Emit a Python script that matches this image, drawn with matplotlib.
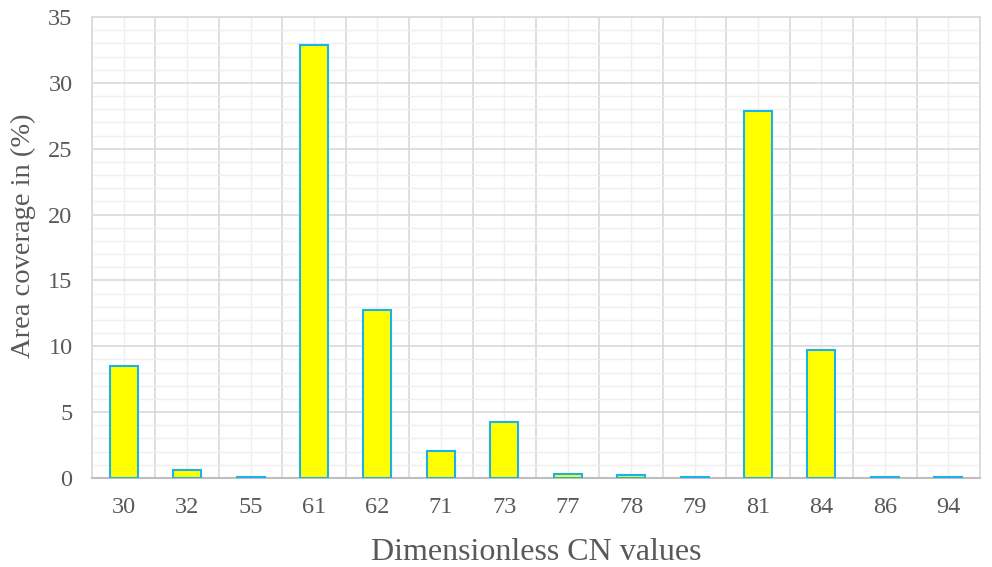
import numpy as np
import matplotlib.pyplot as plt
from matplotlib.ticker import MultipleLocator

cn_values = ["30", "32", "55", "61", "62", "71", "73", "77", "78", "79", "81", "84", "86", "94"]
coverage = [8.5, 0.6, 0.1, 32.9, 12.75, 2.05, 4.25, 0.3, 0.2, 0.1, 27.9, 9.7, 0.1, 0.1]

plt.rcParams['font.family'] = ['Liberation Serif', 'DejaVu Serif']

fig = plt.figure(figsize=(9.92, 5.67), dpi=100)
ax = fig.add_axes([92 / 992, 1 - 478 / 567, 888 / 992, 461 / 567])

x = np.arange(len(cn_values))
ax.bar(x, coverage, width=0.44, color="#FFFF00", edgecolor="#1AB2E8", linewidth=1.5, zorder=3)

ax.set_xlim(-0.5, len(cn_values) - 0.5)
ax.set_ylim(0, 35)
ax.set_xticks(x)
ax.set_xticklabels(cn_values)
ax.xaxis.set_minor_locator(MultipleLocator(1, offset=0.5))
ax.yaxis.set_major_locator(MultipleLocator(5))
ax.yaxis.set_minor_locator(MultipleLocator(1))

# excel style grid: majors on boundaries / every 5, minors lighter
ax.grid(which="major", axis="y", color="#D9D9D9", linewidth=1.2, zorder=0)
ax.grid(which="minor", axis="y", color="#EFEFEF", linewidth=1.0, zorder=0)
ax.grid(which="minor", axis="x", color="#D9D9D9", linewidth=1.2, zorder=0)
ax.grid(which="major", axis="x", color="#EFEFEF", linewidth=1.0, zorder=0)

ax.tick_params(which="both", length=0)
ax.tick_params(axis="x", labelsize=17.5, colors="#595959", pad=14)
ax.tick_params(axis="y", labelsize=17.5, colors="#595959", pad=14)

for side in ["top", "right", "left"]:
    ax.spines[side].set_color("#D9D9D9")
    ax.spines[side].set_linewidth(1.2)
ax.spines["bottom"].set_color("#BFBFBF")
ax.spines["bottom"].set_linewidth(1.5)

ax.set_xlabel("Dimensionless CN values", fontsize=23, color="#595959", labelpad=14)
ax.set_ylabel("Area coverage in (%)", fontsize=20.5, color="#595959")
ax.yaxis.set_label_coords(-0.063, 0.525)

plt.savefig("out.png", dpi=100)
